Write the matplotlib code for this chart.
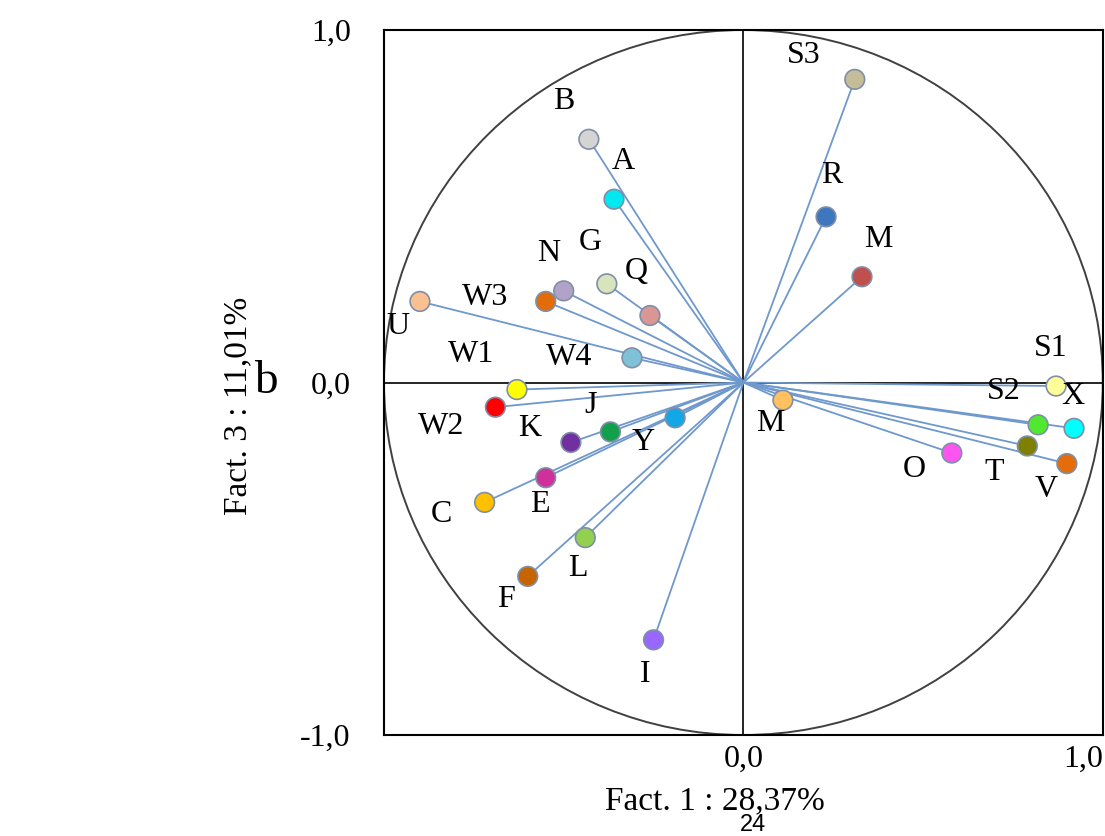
import matplotlib.pyplot as plt
from matplotlib.patches import Ellipse

# variable coordinates on factors 1 and 3
names = ["B", "A", "G", "N", "W3", "Q", "U", "W4", "W1", "W2", "K", "J", "Y",
         "E", "C", "L", "F", "I", "S3", "R", "M", "S1", "S2", "X", "T", "V",
         "O", "M"]
fact1 = [-0.43, -0.36, -0.38, -0.50, -0.55, -0.26, -0.90, -0.31, -0.63, -0.69,
         -0.48, -0.37, -0.19, -0.55, -0.72, -0.44, -0.60, -0.25, 0.31, 0.23,
         0.33, 0.87, 0.82, 0.92, 0.79, 0.90, 0.58, 0.11]
fact3 = [0.69, 0.52, 0.28, 0.26, 0.23, 0.19, 0.23, 0.07, -0.02, -0.07,
         -0.17, -0.14, -0.10, -0.27, -0.34, -0.44, -0.55, -0.73, 0.86, 0.47,
         0.30, -0.01, -0.12, -0.13, -0.18, -0.23, -0.20, -0.05]
colors = ["#d4d4d4", "#00e8f0", "#d8e4bc", "#b3a2c7", "#e26b0a", "#d99694",
          "#fac090", "#7fc2d8", "#ffff00", "#ff0000", "#7030a0", "#12a04c",
          "#12a8e8", "#d0309a", "#ffc000", "#92d050", "#c86400", "#9966ff",
          "#c4bd97", "#3f77bf", "#c0504d", "#ffff99", "#50e830", "#00ffff",
          "#7f7f00", "#e46c0a", "#ff55f0", "#ffc060"]

# label offsets in points (x right, y up)
label_offsets = [(-18, 27), (7, 27), (-12, 30), (-11, 27), (-44, 3), (-10, 32),
                 (-16, -18), (-45, 0), (-33, 25), (-39, -14), (-30, 10),
                 (-14, 19), (-23, -18), (-4, -19), (-31, -9), (-5, -22),
                 (-16, -17), (-6, -25), (-37, 17), (4, 30), (12, 27), (-4, 27),
                 (-25, 24), (-1, 23), (-24, -19), (-15, -19), (-27, -12),
                 (-9, -17)]

plt.rcParams['font.family'] = 'Liberation Serif'

fig = plt.figure(figsize=(11.05, 8.36), dpi=100)
ax = fig.add_axes([0.3475, 0.1208, 0.6505, 0.8433])

ax.add_patch(Ellipse((0, 0), 2, 2, fill=False, edgecolor="#404040", lw=1.4, zorder=1))
ax.axhline(0, color="black", lw=1.2, zorder=1)
ax.axvline(0, color="black", lw=1.2, zorder=1)

for x, y in zip(fact1, fact3):
    ax.plot([0, x], [0, y], color="#6f98cc", lw=1.3, zorder=2)

ax.scatter(fact1, fact3, s=200, c=colors, edgecolors="#7f8fa8", linewidths=1.2, zorder=3)

for name, x, y, off in zip(names, fact1, fact3, label_offsets):
    ax.annotate(name, (x, y), xytext=off, textcoords="offset points",
                ha="center", va="center", fontsize=23)

ax.set_xlim(-1, 1)
ax.set_ylim(-1, 1)
ax.set_xticks([0, 1])
ax.set_xticklabels(["0,0", "1,0"], fontsize=23)
ax.get_xticklabels()[1].set_ha("right")
ax.set_yticks([-1, 0, 1])
ax.set_yticklabels(["-1,0", "0,0", "1,0"], fontsize=23)
ax.tick_params(length=0, pad=24)
ax.tick_params(axis="x", pad=7)
for sp in ax.spines.values():
    sp.set_linewidth(1.5)

ax.set_xlabel("Fact. 1 : 28,37%", fontsize=24, va="center")
ax.xaxis.set_label_coords(0.461, -0.093)
ax.set_ylabel("Fact. 3 : 11,01%", fontsize=24, va="center")
ax.yaxis.set_label_coords(-0.203, 0.467)

fig.text(0.241, 0.543, "b", fontsize=34, ha="center", va="center")
fig.text(0.681, 0.0, "24", fontsize=17, ha="center", va="bottom",
         family="Liberation Sans")

plt.savefig("out.png", dpi=100)
